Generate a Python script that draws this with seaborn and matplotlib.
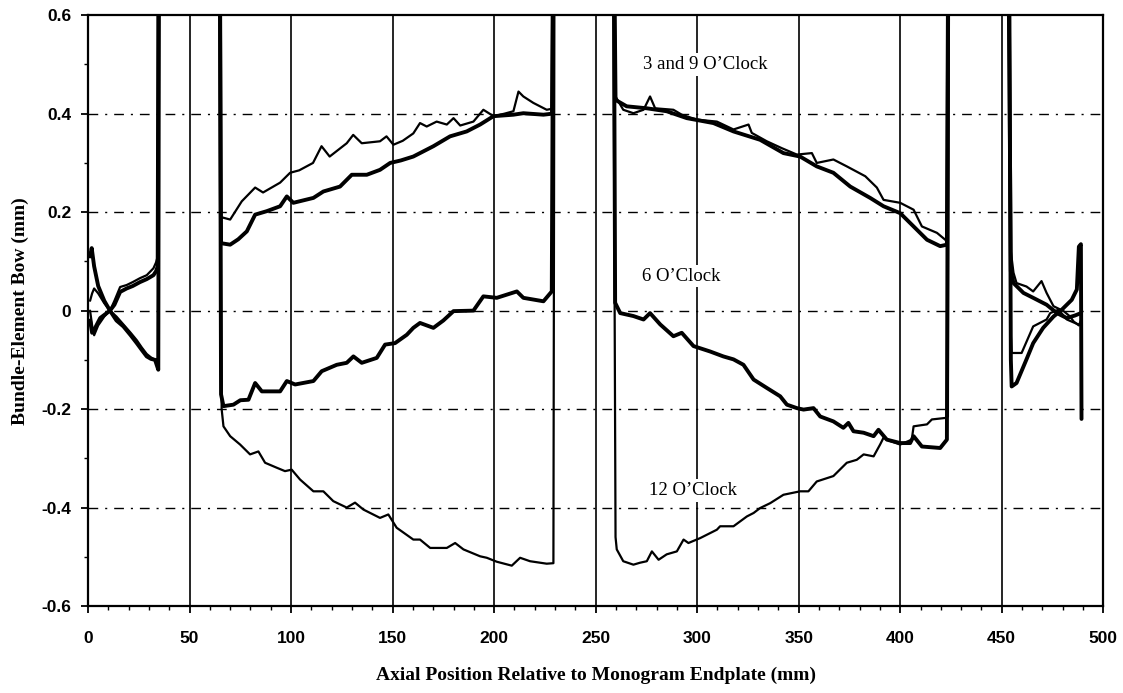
import numpy as np
import pandas as pd
import seaborn as sns
import matplotlib.pyplot as plt
from matplotlib.ticker import MultipleLocator

# values; 0.9 = off the top of the scale (spikes at the gaps)
x_3oc = [1, 2, 3, 5, 8, 10.8, 13, 15.8, 19, 22, 25.6, 28.9, 32.2, 33.5, 34.3, 34.8,
         64.8, 65.5, 70, 75.7, 82.3, 86.2, 94.6, 99.5, 104, 110.8, 115, 119, 127.4,
         130.6, 134.8, 143.8, 147, 150.4, 155, 160.2, 163.5, 166.8, 171.7, 176.7, 180,
         183.3, 189.8, 194.7, 199.7, 205, 209.5, 212, 214.4, 219.3, 225.9, 228.5, 229.3,
         258.8, 259.8, 263.6, 268.6, 273.6, 276.8, 279.3, 288.3, 292.4, 299.8, 309.7,
         317.9, 325.3, 326.9, 334.3, 341.7, 349.1, 356.5, 358.9, 367.1, 373.7, 382.8,
         388.5, 391.8, 400, 406.6, 410.7, 418.1, 422.2, 423.2, 423.8,
         453.0, 454.5, 455.8, 457.3, 462.2, 465.5, 469.6, 472.1, 475.5, 480.5, 483.7,
         485.4, 488, 489]
y_3oc = [0.02, 0.035, 0.045, 0.035, 0.015, 0.0, 0.02, 0.048, 0.052, 0.058, 0.066, 0.072,
         0.086, 0.098, 0.11, 0.9,
         0.9, 0.19, 0.185, 0.222, 0.25, 0.24, 0.26, 0.28, 0.285, 0.30, 0.334, 0.313, 0.34,
         0.357, 0.34, 0.344, 0.354, 0.337, 0.345, 0.36, 0.381, 0.374, 0.384, 0.378, 0.391,
         0.376, 0.384, 0.408, 0.395, 0.40, 0.405, 0.445, 0.435, 0.422, 0.408, 0.41, 0.9,
         0.9, 0.435, 0.408, 0.401, 0.408, 0.435, 0.411, 0.408, 0.398, 0.388, 0.384,
         0.368, 0.378, 0.361, 0.344, 0.330, 0.317, 0.320, 0.300, 0.307, 0.293, 0.273,
         0.25, 0.225, 0.219, 0.205, 0.171, 0.158, 0.144, 0.14, 0.9,
         0.9, 0.12, 0.077, 0.056, 0.049, 0.039, 0.06, 0.036, 0.009, -0.001, -0.012,
         -0.022, -0.03, -0.02]

x_9oc = [1, 2, 3.5, 6, 10.8, 13, 15.8, 19, 22, 25.6, 28.9, 32.2, 33.5, 34.3, 34.8,
         64.8, 65.5, 70, 74, 78.2, 82.3, 88, 94.6, 97.9, 101.1, 111, 115.9, 124.1, 129.9,
         137.3, 143.8, 148.8, 154, 160.2, 170.1, 178.3, 186.5, 193.1, 199.7, 209.5, 214.4,
         224.3, 228.5, 229.3,
         258.8, 259.8, 265.3, 275.2, 285, 294.9, 308, 317.9, 331, 342.5, 350.7, 358.9,
         367.1, 375.4, 385.2, 391.8, 400, 406.6, 413.2, 419.7, 423, 423.8,
         453, 454.5, 455.8, 460.7, 465.5, 472.1, 477.2, 482, 486, 489]
y_9oc = [-0.02, -0.045, -0.035, -0.015, 0.0, 0.012, 0.038, 0.045, 0.05, 0.058, 0.064,
         0.072, 0.08, 0.09, 0.9,
         0.9, 0.137, 0.134, 0.145, 0.161, 0.195, 0.202, 0.212, 0.232, 0.219, 0.229, 0.242,
         0.252, 0.276, 0.276, 0.286, 0.30, 0.305, 0.313, 0.334, 0.354, 0.364, 0.378, 0.395,
         0.398, 0.401, 0.398, 0.40, 0.9,
         0.9, 0.428, 0.415, 0.411, 0.405, 0.391, 0.381, 0.364, 0.347, 0.320, 0.313,
         0.293, 0.280, 0.252, 0.229, 0.212, 0.198, 0.171, 0.144, 0.131, 0.134, 0.9,
         0.9, 0.08, 0.056, 0.036, 0.026, 0.012, -0.005, -0.015, -0.01, -0.005]

x_6oc = [1, 1.8, 3, 5, 8, 10.8, 14, 17.4, 21, 24, 26.5, 28.9, 31, 33, 34.6, 35,
         64.8, 65.5, 66.7, 71.6, 75, 79, 82.3, 85.6, 94.6, 97.9, 102, 111, 115.1, 122.5,
         127.4, 130.7, 134.8, 142.2, 146.3, 151.2, 157, 160.2, 163.5, 170.1, 175, 180,
         189.8, 194.7, 201.3, 211.2, 214.4, 224.3, 228.4, 229.3,
         258.8, 259.6, 262.1, 268.6, 273.6, 276.8, 281.8, 288.3, 292.4, 298.2, 306.4,
         312.9, 317.9, 322.8, 327.8, 334.3, 340.9, 344.2, 349.1, 352.4, 357.3, 360.6,
         367.1, 372, 374.5, 377, 382, 386.9, 389.3, 393.4, 400, 404.9, 406.6, 410.7,
         419.7, 423, 423.8,
         453.5, 454.5, 454.9, 457.3, 462.2, 465.5, 470.4, 475.5, 479.6, 484.5, 487,
         488, 489, 489.3]
y_6oc = [0.11, 0.127, 0.09, 0.05, 0.02, 0.0, -0.02, -0.032, -0.05, -0.066, -0.08, -0.093,
         -0.098, -0.1, -0.12, 0.9,
         0.9, -0.17, -0.194, -0.191, -0.182, -0.181, -0.147, -0.164, -0.164, -0.143,
         -0.15, -0.143, -0.123, -0.11, -0.106, -0.093, -0.106, -0.096, -0.069, -0.066,
         -0.049, -0.035, -0.025, -0.035, -0.02, -0.001, 0.0, 0.029, 0.026, 0.039, 0.026,
         0.019, 0.039, 0.9,
         0.9, 0.016, -0.005, -0.011, -0.018, -0.005, -0.028, -0.052, -0.045, -0.072,
         -0.083, -0.093, -0.099, -0.110, -0.140, -0.157, -0.174, -0.191, -0.198, -0.201,
         -0.198, -0.215, -0.225, -0.238, -0.228, -0.245, -0.248, -0.255, -0.242, -0.262,
         -0.269, -0.269, -0.255, -0.276, -0.279, -0.262, 0.9,
         0.9, -0.1, -0.154, -0.147, -0.099, -0.066, -0.035, -0.012, 0.002, 0.022, 0.043,
         0.13, 0.135, -0.22]

x_12oc = [1, 2, 3, 5, 8, 10.8, 14, 17.4, 21, 24, 26.5, 28.9, 31, 33, 34.4, 34.9,
          64.8, 65.8, 66.7, 70, 74.9, 79.8, 83.9, 87.2, 92.9, 97, 100.3, 104.4, 111,
          115.9, 120.8, 127.4, 131.5, 135.6, 143.8, 147.9, 152, 160.2, 163.5, 168.5,
          176.7, 180.8, 184.9, 193.1, 196.4, 201.3, 208.7, 212.8, 217.7, 225.9, 229.2,
          229.8,
          258.5, 259.8, 260.4, 263.6, 268.6, 271.9, 275.2, 277.7, 281, 285, 290, 293.3,
          295.7, 301.5, 309.7, 311.3, 317.9, 324.5, 327.8, 331, 336, 342.5, 350.7, 354.8,
          358.9, 367.1, 373.7, 378.6, 382, 386.9, 390.1, 391.8, 395.1, 400, 405.7, 406.6,
          413.2, 415.6, 422.2, 423.5, 424,
          453, 454.5, 454.9, 459.8, 465.5, 472.1, 473.9, 478, 482.1, 486, 489]
y_12oc = [0.0, -0.03, -0.05, -0.03, -0.012, 0.0, -0.012, -0.028, -0.045, -0.06, -0.075,
          -0.088, -0.095, -0.1, -0.11, 0.9,
          0.9, -0.2, -0.235, -0.255, -0.272, -0.292, -0.286, -0.309, -0.319, -0.326,
          -0.323, -0.343, -0.367, -0.367, -0.387, -0.40, -0.39, -0.404, -0.421, -0.414,
          -0.441, -0.465, -0.465, -0.482, -0.482, -0.472, -0.485, -0.499, -0.502, -0.510,
          -0.518, -0.502, -0.509, -0.514, -0.513, 0.9,
          0.9, -0.46, -0.485, -0.509, -0.516, -0.512, -0.509, -0.489, -0.506, -0.495,
          -0.489, -0.465, -0.472, -0.462, -0.445, -0.438, -0.438, -0.418, -0.411, -0.401,
          -0.391, -0.374, -0.367, -0.367, -0.347, -0.336, -0.309, -0.303, -0.292, -0.296,
          -0.272, -0.258, -0.265, -0.272, -0.262, -0.235, -0.231, -0.221, -0.218, -0.215,
          0.9,
          0.9, -0.05, -0.086, -0.086, -0.032, -0.018, -0.005, 0.002, -0.018, -0.025, -0.03]

grid_x = [50, 100, 150, 200, 250, 300, 350, 400, 450]
grid_y = [-0.4, -0.2, 0, 0.2, 0.4]
ytick_vals = [-0.6, -0.4, -0.2, 0, 0.2, 0.4, 0.6]
ytick_labels = ['-0.6', '-0.4', '-0.2', '0', '0.2', '0.4', '0.6']
xtick_vals = [0, 50, 100, 150, 200, 250, 300, 350, 400, 450, 500]

labels = ["3 and 9 O\u2019Clock", "6 O\u2019Clock", "12 O\u2019Clock"]
label_x = [304, 292, 298]
label_y = [0.5, 0.07, -0.365]

sns.set_theme(style="ticks")
plt.rcParams['font.family'] = ['Liberation Serif', 'DejaVu Serif']

fig = plt.figure(figsize=(11.23, 6.93), dpi=100)
ax = fig.add_axes([0.0784, 0.1255, 0.904, 0.8525])

# grid
for gx in grid_x:
    ax.axvline(gx, color='black', lw=1.2, zorder=1)
for gy in grid_y:
    ax.axhline(gy, color='black', lw=1.0, linestyle=(0, (7, 5, 1.5, 5)), zorder=1)

curves = [(x_3oc, y_3oc, 1.6), (x_9oc, y_9oc, 2.8), (x_6oc, y_6oc, 2.8), (x_12oc, y_12oc, 1.6)]
for xs, ys, lw in curves:
    sns.lineplot(x=xs, y=ys, ax=ax, color='black', lw=lw, sort=False,
                 estimator=None, zorder=3, solid_joinstyle='round',
                 solid_capstyle='round')

for t, tx, ty in zip(labels, label_x, label_y):
    ax.text(tx, ty, t, ha='center', va='center', fontsize=13.5, zorder=4,
            color='black', bbox=dict(facecolor='white', edgecolor='none', pad=2))

ax.set_xlim(0, 500)
ax.set_ylim(-0.6, 0.6)
ax.set_xticks(xtick_vals)
ax.set_yticks(ytick_vals)
ax.set_yticklabels(ytick_labels)
ax.xaxis.set_minor_locator(MultipleLocator(10))
ax.yaxis.set_minor_locator(MultipleLocator(0.1))
ax.tick_params(axis='both', which='major', direction='out', length=5, width=1.3,
               color='black')
ax.tick_params(axis='both', which='minor', direction='out', length=3, width=1.0,
               color='black')
ax.tick_params(axis='x', which='major', pad=13)
ax.tick_params(axis='y', which='major', pad=7)
for lab in ax.get_xticklabels() + ax.get_yticklabels():
    lab.set_fontfamily('Liberation Sans')
    lab.set_fontweight('bold')
    lab.set_fontsize(12.5)
    lab.set_color('black')
for sp in ax.spines.values():
    sp.set_visible(True)
    sp.set_color('black')
    sp.set_linewidth(1.6)

ax.set_xlabel("Axial Position Relative to Monogram Endplate (mm)", fontsize=14,
              fontweight='bold', color='black', labelpad=15)
ax.set_ylabel("Bundle-Element Bow (mm)", fontsize=14, fontweight='bold',
              color='black', labelpad=9)

fig.savefig("out.png", dpi=100, facecolor='white')
